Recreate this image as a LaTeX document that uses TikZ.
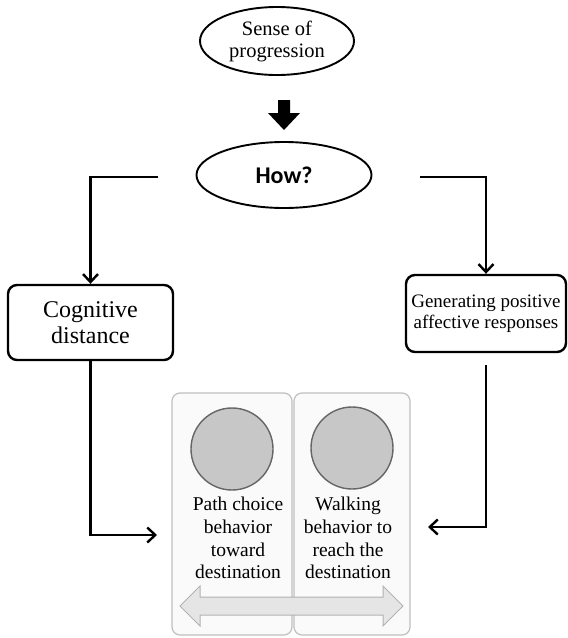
\documentclass[tikz,border=0pt]{standalone}
\usepackage{fontspec}
\setmainfont{Liberation Serif}
\newfontfamily\howfont{Carlito}
\usetikzlibrary{shapes,arrows.meta,positioning}

\begin{document}
\begin{tikzpicture}
	[x=1pt,y=-1pt,
		ovalnode/.style={ellipse, draw=black, line width=1.9pt, inner sep=0pt},
		roundbox/.style={rectangle, rounded corners=9pt, draw=black, line width=2.4pt, inner sep=0pt, align=center},
		panelbox/.style={rectangle, rounded corners=8pt, draw=black!25, fill=black!2, line width=1.2pt, inner sep=0pt},
		graydot/.style={circle, draw=black!60, fill=black!22, line width=1.4pt, minimum size=82pt, inner sep=0pt},
		paneltext/.style={align=center, inner sep=0pt, font=\fontsize{19.5}{22.7}\selectfont},
		connector/.style={-{Straight Barb[length=8pt,width=15pt,line width=2.4pt]}, line width=2.6pt},
	]

	\useasboundingbox (0,0) rectangle (568,638);

	% top of the chain
	\node[ovalnode, minimum width=154pt, minimum height=68pt, align=center, font=\fontsize{20.5}{22}\selectfont] (sense) at (277,41) {Sense of\\progression};
	\node[ovalnode, minimum width=175pt, minimum height=66pt, font=\howfont\bfseries\fontsize{24}{26}\selectfont] (how) at (284,175) {How?};

	\fill (278,100) -- (290,100) -- (290,113) -- (300,113) -- (284,130) -- (268,113) -- (278,113) -- cycle;

	\node[roundbox, minimum width=165pt, minimum height=75pt, font=\fontsize{24}{26}\selectfont] (cog) at (90.5,322.5) {Cognitive\\distance};
	\node[roundbox, minimum width=160pt, minimum height=77pt, font=\fontsize{19}{20.5}\selectfont] (gen) at (486,313.5) {Generating positive\\affective responses};

	% the two behaviours
	\node[panelbox, minimum width=120pt, minimum height=242pt] (pathpanel) at (232,514) {};
	\node[panelbox, minimum width=116pt, minimum height=242pt] (walkpanel) at (352,514) {};

	\node[graydot] (pathdot) at (232,449) {};
	\node[graydot] (walkdot) at (352,448) {};

	\node[paneltext] (pathtext) at (238,538) {Path choice\\behavior\\toward\\destination};
	\node[paneltext] (walktext) at (348,538) {Walking\\behavior to\\reach the\\destination};

	\draw[draw=black!30, fill=black!10, line width=1pt] (180,606) -- (200,586) -- (200,597) -- (383,597) -- (383,586) -- (403,606) -- (383,626) -- (383,615) -- (200,615) -- (200,626) -- cycle;

	% connectors
	\coordinate (howleft) at (158,177);
	\coordinate (howright) at (420,177);
	\coordinate (genbelow) at (486,365);
	\coordinate (pathin) at (157,535);
	\coordinate (walkin) at (428,527);

	\draw[connector] (howleft) -| (cog.north);
	\draw[connector] (howright) -| (gen.north);
	\draw[connector] (cog.south) |- (pathin);
	\draw[connector] (genbelow) |- (walkin);

\end{tikzpicture}
\end{document}
